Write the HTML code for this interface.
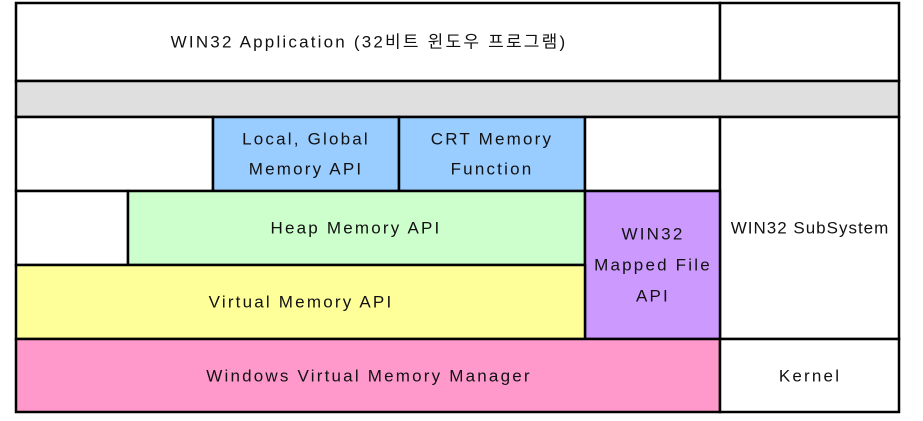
<!DOCTYPE html>
<html><head><meta charset="utf-8"><style>
body{margin:0;background:#fff;}
svg text{font-family:"Liberation Sans","Noto Sans CJK KR",sans-serif;font-size:17px;fill:#111;text-anchor:middle;dominant-baseline:central;letter-spacing:2.2px;}
</style></head><body>
<svg width="923" height="416" viewBox="0 0 923 416" xmlns="http://www.w3.org/2000/svg">
<g stroke="#000" stroke-width="2.5">
<rect x="16" y="3" width="704" height="78" fill="#fff"/>
<rect x="720" y="3" width="179" height="78" fill="#fff"/>
<rect x="16" y="81" width="883" height="36" fill="#dfdfdf"/>
<rect x="16" y="117" width="197" height="74" fill="#fff"/>
<rect x="213" y="117" width="186" height="74" fill="#99ccff"/>
<rect x="399" y="117" width="186" height="74" fill="#99ccff"/>
<rect x="585" y="117" width="135" height="74" fill="#fff"/>
<rect x="720" y="117" width="179" height="222" fill="#fff"/>
<rect x="16" y="191" width="112" height="74" fill="#fff"/>
<rect x="128" y="191" width="457" height="74" fill="#ccffcc"/>
<rect x="585" y="191" width="135" height="148" fill="#cc99ff"/>
<rect x="16" y="265" width="569" height="74" fill="#ffff99"/>
<rect x="16" y="339" width="704" height="73" fill="#ff99cc"/>
<rect x="720" y="339" width="179" height="73" fill="#fff"/>
</g>
<text x="369" y="42">WIN32 Application (32비트 윈도우 프로그램)</text>
<text x="306" y="139">Local, Global</text>
<text x="306" y="169">Memory API</text>
<text x="492" y="139">CRT Memory</text>
<text x="492" y="169">Function</text>
<text x="356" y="228">Heap Memory API</text>
<text x="653" y="234">WIN32</text>
<text x="653" y="265">Mapped File</text>
<text x="653" y="296">API</text>
<text x="810" y="228" style="letter-spacing:1px">WIN32 SubSystem</text>
<text x="301" y="302">Virtual Memory API</text>
<text x="369" y="376">Windows Virtual Memory Manager</text>
<text x="810" y="376">Kernel</text>
</svg>
</body></html>
